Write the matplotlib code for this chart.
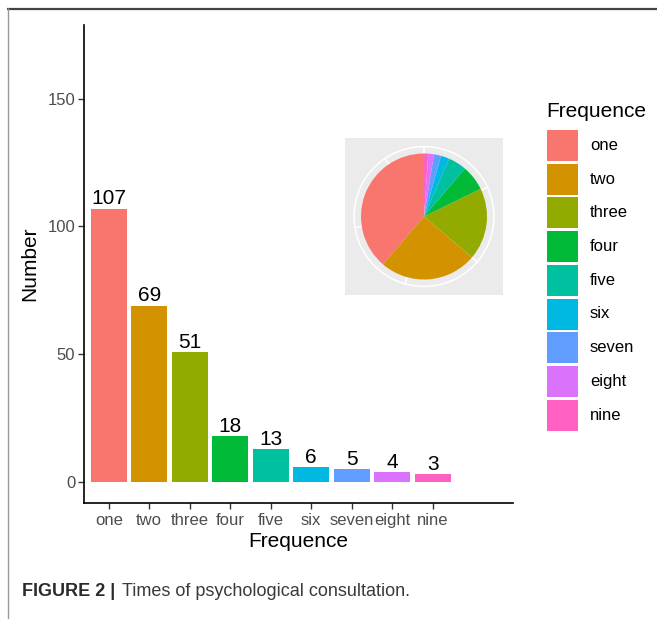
import numpy as np
import matplotlib
matplotlib.use('Agg')
from matplotlib import pyplot as plt
from matplotlib.patches import Rectangle, Circle

plt.rcParams['font.family'] = ['Liberation Sans', 'DejaVu Sans']

W, H = 657, 619

categories = ['one', 'two', 'three', 'four', 'five', 'six', 'seven', 'eight', 'nine']
counts = [107, 69, 51, 18, 13, 6, 5, 4, 3]
colors = ['#F8766D', '#D39200', '#93AA00', '#00BA38', '#00C19F',
          '#00B9E3', '#619CFF', '#DB72FB', '#FF61C3']
y_ticks = [0, 50, 100, 150]
theta_breaks = [0, 50, 100, 150, 200, 250]


def fig_box(left, top, right, bottom):
    # pixel box -> figure fraction
    return [left / W, 1 - bottom / H, (right - left) / W, (bottom - top) / H]


fig = plt.figure(figsize=(W / 100, H / 100), dpi=100)

# bar chart
ax = fig.add_axes(fig_box(84, 25, 513, 503))
x = np.arange(1, len(categories) + 1)
ax.bar(x, counts, width=0.89, color=colors, linewidth=0)
for xi, v in zip(x, counts):
    ax.annotate(str(v), (xi, v), xytext=(0, 3), textcoords='offset points',
                ha='center', va='baseline', fontsize=15, color='black')
ax.set_xlim(0.39, 10.98)
ax.set_ylim(-8.2, 178.8)
ax.set_xticks(x, categories)
ax.set_yticks(y_ticks)
ax.tick_params(axis='both', labelsize=12, labelcolor='#4D4D4D', color='#333333',
               length=4.2, width=1.0)
ax.tick_params(axis='y', pad=2)
ax.tick_params(axis='x', pad=3)
for s in ['top', 'right']:
    ax.spines[s].set_visible(False)
for s in ['left', 'bottom']:
    ax.spines[s].set_linewidth(1.2)
    ax.spines[s].set_color('black')
ax.set_xlabel('Frequence', fontsize=15, labelpad=3)
ax.set_ylabel('Number', fontsize=15, labelpad=6)

# pie inset
pax = fig.add_axes(fig_box(345, 138, 503, 295))
pax.pie(counts, colors=colors, startangle=90, counterclock=True, radius=1,
        wedgeprops=dict(linewidth=0, zorder=3))
pax.set_aspect('auto')
pax.set_xlim(-1.254, 1.254)
pax.set_ylim(-1.246, 1.246)
pax.set_frame_on(True)
pax.set_facecolor('#EBEBEB')
for s in pax.spines.values():
    s.set_visible(False)
pax.set_xticks([])
pax.set_yticks([])
total = sum(counts)
r_out = 1.11
pax.add_patch(Circle((0, 0), r_out, fill=False, ec='white', lw=1.1, zorder=2))
for b in theta_breaks:
    th = 2 * np.pi * b / total
    pax.plot([0, r_out * np.sin(th)], [0, r_out * np.cos(th)], color='white',
             lw=1.1, zorder=2)

# overlay for legend, border and caption (pixel coordinates)
lax = fig.add_axes([0, 0, 1, 1])
lax.set_xlim(0, W)
lax.set_ylim(H, 0)
lax.axis('off')

lax.text(546, 117, 'Frequence', fontsize=15, va='baseline', ha='left')
key_top, key_size, key_pitch = 130, 31, 33.7
for i, (c, lab) in enumerate(zip(colors, categories)):
    y0 = key_top + i * key_pitch
    lax.add_patch(Rectangle((547, y0), key_size, key_size, facecolor=c, edgecolor='none'))
    lax.text(590, y0 + key_size / 2, lab, fontsize=12, va='center', ha='left')

lax.plot([7, W], [8.5, 8.5], color='#444444', lw=1.6, solid_capstyle='butt')
lax.plot([7.8, 7.8], [8, H], color='#999999', lw=1.0, solid_capstyle='butt')

lax.text(22, 596.5, 'FIGURE 2 |', fontsize=13, fontweight='bold', color='#2b2b2b',
         va='baseline', ha='left')
lax.text(122, 596.5, 'Times of psychological consultation.', fontsize=13,
         color='#3a3a3a', va='baseline', ha='left')

fig.savefig('out.png', dpi=100)
